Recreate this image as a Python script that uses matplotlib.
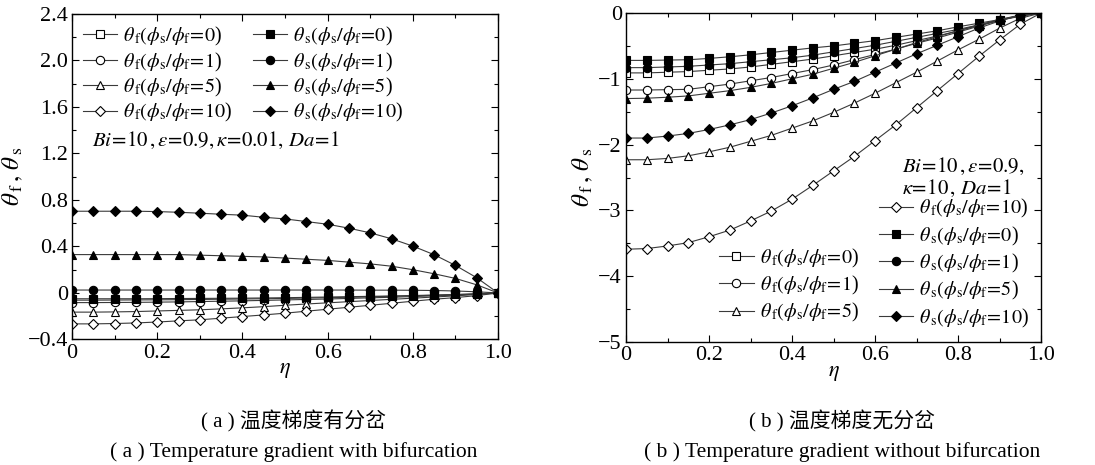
import matplotlib
matplotlib.use('Agg')
import matplotlib.pyplot as plt
from matplotlib.lines import Line2D

plt.rcParams['font.family'] = ['Liberation Serif', 'Noto Sans CJK SC']
plt.rcParams['mathtext.fontset'] = 'stix'

# dimensionless position
eta = [0.0, 0.05, 0.1, 0.15, 0.2, 0.25, 0.3, 0.35, 0.4, 0.45, 0.5,
       0.55, 0.6, 0.65, 0.7, 0.75, 0.8, 0.85, 0.9, 0.95, 1.0]

# (a) with bifurcation, kappa = 0.01
a_tf0 = [-0.062, -0.062, -0.061, -0.060, -0.059, -0.058, -0.056, -0.054, -0.052, -0.050, -0.047,
         -0.044, -0.041, -0.037, -0.033, -0.029, -0.025, -0.020, -0.015, -0.008, 0.0]
a_tf1 = [-0.083, -0.083, -0.082, -0.081, -0.079, -0.077, -0.074, -0.071, -0.068, -0.064, -0.060,
         -0.056, -0.052, -0.047, -0.042, -0.037, -0.031, -0.025, -0.018, -0.010, 0.0]
a_tf5 = [-0.165, -0.165, -0.163, -0.160, -0.155, -0.150, -0.145, -0.137, -0.128, -0.118, -0.106,
         -0.095, -0.085, -0.075, -0.065, -0.055, -0.045, -0.035, -0.025, -0.013, 0.0]
a_tf10 = [-0.266, -0.266, -0.263, -0.258, -0.250, -0.240, -0.231, -0.217, -0.203, -0.189, -0.174,
          -0.157, -0.140, -0.123, -0.106, -0.089, -0.071, -0.054, -0.040, -0.023, 0.0]
a_ts0 = [-0.050, -0.050, -0.050, -0.050, -0.049, -0.048, -0.047, -0.046, -0.045, -0.043, -0.041,
         -0.038, -0.035, -0.032, -0.029, -0.026, -0.022, -0.018, -0.013, -0.008, 0.0]
a_ts1 = [0.025, 0.025, 0.025, 0.025, 0.025, 0.025, 0.025, 0.025, 0.025, 0.025, 0.025,
         0.025, 0.025, 0.025, 0.024, 0.024, 0.023, 0.021, 0.017, 0.010, 0.0]
a_ts5 = [0.330, 0.330, 0.330, 0.330, 0.330, 0.330, 0.325, 0.320, 0.315, 0.310, 0.300,
         0.290, 0.280, 0.265, 0.250, 0.230, 0.200, 0.165, 0.125, 0.070, 0.0]
a_ts10 = [0.703, 0.703, 0.703, 0.703, 0.700, 0.694, 0.686, 0.677, 0.669, 0.651, 0.637,
          0.614, 0.591, 0.557, 0.517, 0.466, 0.403, 0.329, 0.237, 0.131, 0.0]

# (b) without bifurcation, kappa = 10
b_tf0 = [-0.91, -0.91, -0.90, -0.89, -0.87, -0.85, -0.82, -0.78, -0.74, -0.70, -0.65,
         -0.60, -0.55, -0.49, -0.42, -0.35, -0.27, -0.19, -0.11, -0.04, 0.0]
b_tf1 = [-1.17, -1.17, -1.165, -1.16, -1.12, -1.08, -1.03, -0.98, -0.92, -0.86, -0.79,
         -0.71, -0.63, -0.55, -0.46, -0.38, -0.29, -0.20, -0.11, -0.04, 0.0]
b_tf5 = [-2.23, -2.23, -2.21, -2.17, -2.11, -2.04, -1.95, -1.86, -1.75, -1.64, -1.51,
         -1.37, -1.22, -1.06, -0.90, -0.73, -0.56, -0.40, -0.23, -0.08, 0.0]
b_tf10 = [-3.59, -3.58, -3.54, -3.49, -3.40, -3.30, -3.16, -3.01, -2.83, -2.62, -2.40,
          -2.18, -1.94, -1.70, -1.44, -1.18, -0.92, -0.66, -0.41, -0.17, 0.0]
b_ts0 = [-0.72, -0.72, -0.715, -0.71, -0.69, -0.665, -0.635, -0.60, -0.565, -0.53, -0.50,
         -0.46, -0.42, -0.37, -0.32, -0.27, -0.21, -0.155, -0.10, -0.04, 0.0]
b_ts1 = [-0.83, -0.83, -0.82, -0.81, -0.79, -0.77, -0.74, -0.71, -0.68, -0.64, -0.59,
         -0.54, -0.49, -0.43, -0.37, -0.31, -0.25, -0.18, -0.11, -0.05, 0.0]
b_ts5 = [-1.30, -1.295, -1.28, -1.26, -1.22, -1.18, -1.13, -1.07, -1.00, -0.93, -0.84,
         -0.75, -0.65, -0.55, -0.45, -0.36, -0.27, -0.18, -0.10, -0.03, 0.0]
b_ts10 = [-1.90, -1.90, -1.87, -1.83, -1.77, -1.70, -1.62, -1.52, -1.41, -1.29, -1.16,
          -1.04, -0.90, -0.76, -0.62, -0.49, -0.36, -0.23, -0.12, -0.03, 0.0]

ratios = ['0', '1', '5', '10']
markers = ['s', 'o', '^', 'D']

x_ticks = [0, 0.2, 0.4, 0.6, 0.8, 1.0]
x_ticklabels = ['0', '0.2', '0.4', '0.6', '0.8', '1.0']
a_yticks = [-0.4, 0, 0.4, 0.8, 1.2, 1.6, 2.0, 2.4]
a_yticklabels = ['\u22120.4', '0', '0.4', '0.8', '1.2', '1.6', '2.0', '2.4']
b_yticks = [-5, -4, -3, -2, -1, 0]
b_yticklabels = ['\u22125', '\u22124', '\u22123', '\u22122', '\u22121', '0']

cap_cn = ['( a ) 温度梯度有分岔', '( b ) 温度梯度无分岔']
cap_en = ['( a ) Temperature gradient with bifurcation',
          '( b ) Temperature gradient without bifurcation']

LC = '#3a3a3a'


def tf_label(r):
    return r'$\theta_{\,\rm f}(\phi_{\rm s}/\phi_{\rm f}\!=\!' + r + '$' + ')'


def ts_label(r):
    return r'$\theta_{\,\rm s}(\phi_{\rm s}/\phi_{\rm f}\!=\!' + r + '$' + ')'


def draw(ax, tf, ts):
    hf, hs = [], []
    for vals, r, m in zip(tf, ratios, markers):
        h, = ax.plot(eta, vals, color=LC, lw=0.8, marker=m,
                     ms=6 if m != 'D' else 5.5, mfc='white', mec='black',
                     mew=0.8, label=tf_label(r))
        hf.append(h)
    for vals, r, m in zip(ts, ratios, markers):
        h, = ax.plot(eta, vals, color=LC, lw=0.8, marker=m,
                     ms=6 if m != 'D' else 5.5, mfc='black', mec='black',
                     mew=0.8, label=ts_label(r))
        hs.append(h)
    return hf, hs


def style(ax, yticks, ylabels, ylim, yminor):
    ax.set_xlim(0, 1.0)
    ax.set_ylim(*ylim)
    ax.set_xticks(x_ticks)
    ax.set_xticklabels(x_ticklabels)
    ax.set_xticks([0.1, 0.3, 0.5, 0.7, 0.9], minor=True)
    ax.set_yticks(yticks)
    ax.set_yticklabels(ylabels)
    ax.set_yticks(yminor, minor=True)
    ax.tick_params(which='both', direction='in', top=True, right=True,
                   labelsize=16, width=0.8)
    ax.tick_params(which='major', length=5, pad=3)
    ax.tick_params(which='minor', length=3)
    for s in ax.spines.values():
        s.set_linewidth(1.0)
    ax.set_xlabel(r'$\eta$', fontsize=16, labelpad=-1)
    ax.set_ylabel(r'$\theta_{\,\rm f}\,,\,\theta_{\,\rm s}$', fontsize=18, labelpad=2)


fig = plt.figure(figsize=(10.95, 4.65), dpi=100)
ax1 = fig.add_axes([0.0658, 0.270, 0.389, 0.700])
ax2 = fig.add_axes([0.5717, 0.2645, 0.379, 0.7075])

leg_kw = dict(frameon=False, fontsize=14.5, handlelength=1.7, handletextpad=0.3,
              columnspacing=1.0)

# panel (a)
hf, hs = draw(ax1, [a_tf0, a_tf1, a_tf5, a_tf10], [a_ts0, a_ts1, a_ts5, a_ts10])
style(ax1, a_yticks, a_yticklabels, (-0.4, 2.4),
      [-0.2, 0.2, 0.6, 1.0, 1.4, 1.8, 2.2])
ax1.legend(hf + hs, [h.get_label() for h in hf + hs], ncol=2, loc='upper left',
           borderaxespad=0.15, bbox_to_anchor=(0.0, 1.0), labelspacing=0.12, **leg_kw)
ax1.text(0.047, 0.612, r'$Bi\!=\!10\,,\varepsilon\!=\!0.9,\kappa\!=\!0.01,\,Da\!=\!1$',
         transform=ax1.transAxes, fontsize=15, ha='left', va='center')

# panel (b)
hf, hs = draw(ax2, [b_tf0, b_tf1, b_tf5, b_tf10], [b_ts0, b_ts1, b_ts5, b_ts10])
style(ax2, b_yticks, b_yticklabels, (-5, 0),
      [-4.5, -3.5, -2.5, -1.5, -0.5])
blank = Line2D([], [], linestyle='none', marker='none')
handles = [blank, blank, hf[0], hf[1], hf[2], hf[3], hs[0], hs[1], hs[2], hs[3]]
labels = [' ', ' '] + [h.get_label() for h in handles[2:]]
ax2.legend(handles, labels, ncol=2, loc='lower right', borderaxespad=0.2,
           labelspacing=0.22, **leg_kw)
ax2.text(0.665, 0.566, r'$Bi\!=\!10\,,\varepsilon\!=\!0.9,$' + '\n' + r'$\kappa\!=\!10\,,\,Da\!=\!1$',
         transform=ax2.transAxes, fontsize=15, ha='left', va='top', linespacing=1.05)

# captions
for ax, cn, en in zip([ax1, ax2], cap_cn, cap_en):
    pos = ax.get_position()
    xc = pos.x0 + pos.width / 2 + 0.008
    fig.text(xc, 1 - 421 / 465, cn, ha='center', va='center', fontsize=15)
    fig.text(xc, 1 - 452 / 465, en, ha='center', va='center', fontsize=15.5)

fig.savefig('out.png', dpi=100)
